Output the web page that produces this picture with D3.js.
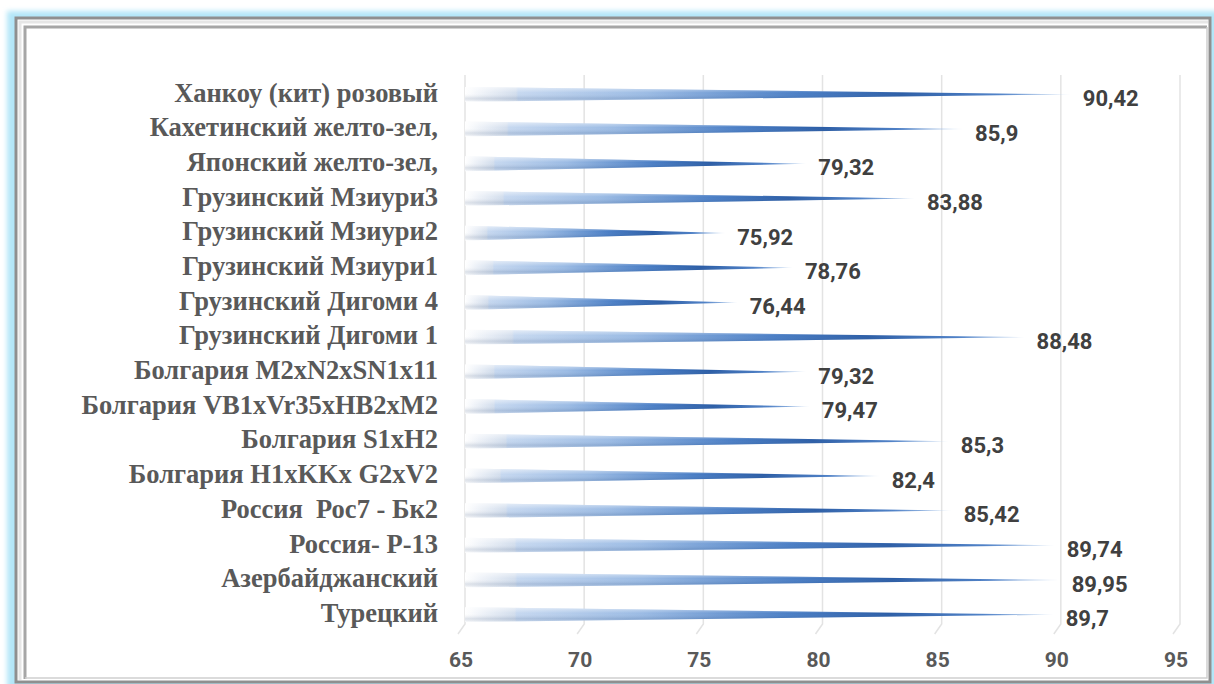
<!DOCTYPE html>
<html>
<head>
<meta charset="utf-8">
<script src="https://cdn.jsdelivr.net/npm/d3@7"></script>
<style>
  body { margin: 0; background: #fff; }
</style>
</head>
<body>
<div id="chart"></div>
<script>
// categories from top to bottom, as shown
const categories = [
  "Ханкоу (кит) розовый",
  "Кахетинский желто-зел,",
  "Японский желто-зел,",
  "Грузинский Мзиури3",
  "Грузинский Мзиури2",
  "Грузинский Мзиури1",
  "Грузинский Дигоми 4",
  "Грузинский Дигоми 1",
  "Болгария M2xN2xSN1x11",
  "Болгария VB1xVr35xHB2xM2",
  "Болгария S1xH2",
  "Болгария H1xKKx G2xV2",
  "Россия  Рос7 - Бк2",
  "Россия- Р-13",
  "Азербайджанский",
  "Турецкий"
];
const values = [90.42, 85.9, 79.32, 83.88, 75.92, 78.76, 76.44, 88.48,
                79.32, 79.47, 85.3, 82.4, 85.42, 89.74, 89.95, 89.7];
const xTicks = [65, 70, 75, 80, 85, 90, 95];

const data = categories.map((c, i) => ({cat: c, value: values[i]}));

const width = 1214, height = 684;

const svg = d3.select("#chart").append("svg")
  .attr("width", width)
  .attr("height", height);

const defs = svg.append("defs");

// soft blue glow round the frame
defs.append("filter").attr("id", "glow")
  .append("feGaussianBlur").attr("stdDeviation", 2.5);

// cone colour along its length
const hGrad = defs.append("linearGradient").attr("id", "coneH")
  .attr("x1", 0).attr("x2", 1).attr("y1", 0).attr("y2", 0);
[[0, "#ffffff"], [0.03, "#eef2f8"], [0.084, "#d3deed"], [0.088, "#c6d8f0"],
 [0.3, "#9bbbe4"], [0.55, "#4a7ec5"], [0.72, "#2b5da6"], [0.88, "#4d80c7"],
 [0.97, "#aac6ea"], [1, "#dde8f6"]]
  .forEach(s => hGrad.append("stop").attr("offset", s[0]).attr("stop-color", s[1]));

// round shading across the cone
const vGrad = defs.append("linearGradient").attr("id", "coneV")
  .attr("x1", 0).attr("x2", 0).attr("y1", 0).attr("y2", 1);
[[0, "#ffffff", 0.55], [0.4, "#ffffff", 0], [0.75, "#0b2a5a", 0.12], [1, "#ffffff", 0.25]]
  .forEach(s => vGrad.append("stop").attr("offset", s[0])
    .attr("stop-color", s[1]).attr("stop-opacity", s[2]));

// frame
svg.append("rect")
  .attr("x", 7).attr("y", 11).attr("width", 1240).attr("height", 700)
  .attr("fill", "#b3e6f8").attr("filter", "url(#glow)");
svg.append("rect")
  .attr("x", 16).attr("y", 18).attr("width", 1194).attr("height", 664)
  .attr("fill", "#ffffff").attr("stroke", "#8f8f8f").attr("stroke-width", 3);
svg.append("path")
  .attr("d", "M20,680 V22 H1208")
  .attr("fill", "none").attr("stroke", "#e6e6e6").attr("stroke-width", 3);
svg.append("path")
  .attr("d", "M25,679 V27 H1207")
  .attr("fill", "none").attr("stroke", "#a6a6a6").attr("stroke-width", 3);
svg.append("path")
  .attr("d", "M25,678 H1207 V27")
  .attr("fill", "none").attr("stroke", "#d0d0d0").attr("stroke-width", 1.5);

const x = d3.scaleLinear().domain([65, 95]).range([465, 1180]);
const y = d3.scaleBand().domain(categories).range([77, 632]);

// gridlines with a small 3d floor foot
const gridTop = 75, gridBottom = 624;
svg.append("g").selectAll("path")
  .data(xTicks)
  .enter().append("path")
    .attr("d", d => `M${x(d)},${gridTop} V${gridBottom} l-7,10`)
    .attr("fill", "none")
    .attr("stroke", "#e3e3e3")
    .attr("stroke-width", 1.5);

// tick labels
svg.append("g").selectAll("text")
  .data(xTicks)
  .enter().append("text")
    .attr("x", d => x(d) - 4)
    .attr("y", 660)
    .attr("dy", "0.35em")
    .attr("text-anchor", "middle")
    .style("font-family", "Roboto, sans-serif")
    .style("font-weight", "bold")
    .style("font-size", "21px")
    .attr("fill", "#595959")
    .text(d => d);

// cones
const half = y.bandwidth() * 0.215;
const cone = d => {
  const c = y(d.cat) + y.bandwidth() / 2;
  return `M${x(65)},${c - half} L${x(d.value)},${c} L${x(65)},${c + half} Z`;
};
const bars = svg.append("g");
bars.selectAll("path.h")
  .data(data)
  .enter().append("path")
    .attr("class", "h")
    .attr("d", cone)
    .attr("fill", "url(#coneH)");
bars.selectAll("path.v")
  .data(data)
  .enter().append("path")
    .attr("class", "v")
    .attr("d", cone)
    .attr("fill", "url(#coneV)");

// category labels
svg.append("g").selectAll("text")
  .data(data)
  .enter().append("text")
    .attr("x", 438)
    .attr("y", d => y(d.cat) + y.bandwidth() / 2 - 2)
    .attr("dy", "0.35em")
    .attr("text-anchor", "end")
    .attr("xml:space", "preserve")
    .style("font-family", "'Liberation Serif', 'Times New Roman', serif")
    .style("font-weight", "bold")
    .style("font-size", "26.5px")
    .attr("fill", "#595959")
    .text(d => d.cat);

// value labels
svg.append("g").selectAll("text")
  .data(data)
  .enter().append("text")
    .attr("x", d => x(d.value) + 12)
    .attr("y", d => y(d.cat) + y.bandwidth() / 2 + 4)
    .attr("dy", "0.35em")
    .style("font-family", "Roboto, sans-serif")
    .style("font-weight", "bold")
    .style("font-size", "22px")
    .attr("fill", "#404040")
    .text(d => String(d.value).replace(".", ","));
</script>
</body>
</html>
